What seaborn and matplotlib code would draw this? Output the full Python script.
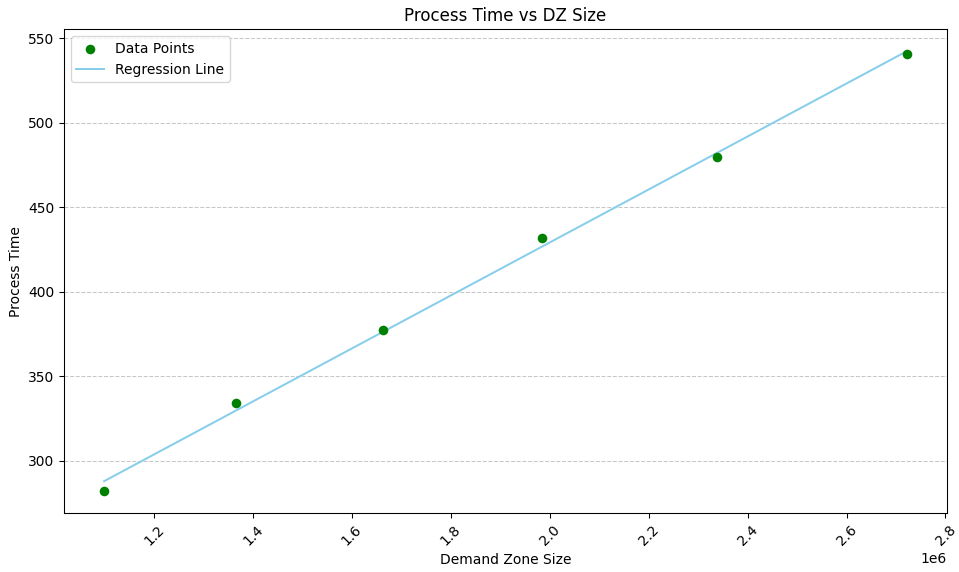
import numpy as np
import pandas as pd
import matplotlib
matplotlib.use("Agg")
import matplotlib.pyplot as plt
import seaborn as sns

# Demand zone sizes and measured process times
dz_size = [1.099e6, 1.365e6, 1.662e6, 1.985e6, 2.339e6, 2.722e6]
process_time = [282.1, 334.1, 377.2, 431.6, 479.7, 540.8]

df = pd.DataFrame({"dz_size": dz_size, "process_time": process_time})

# Least-squares linear fit
slope, intercept = np.polyfit(df["dz_size"], df["process_time"], 1)
df["fitted"] = slope * df["dz_size"] + intercept

# Plain matplotlib look: black text and spines
plt.rcdefaults()
plt.rcParams["font.family"] = ["DejaVu Sans"]
plt.rcParams["font.size"] = 10.4

fig, ax = plt.subplots(figsize=(959 / 96, 572 / 96), dpi=96)
fig.subplots_adjust(left=0.0667, right=0.9875, top=0.949, bottom=0.103)

sns.scatterplot(data=df, x="dz_size", y="process_time", color="green", s=52,
                linewidth=0, label="Data Points", ax=ax, zorder=3)
sns.lineplot(data=df, x="dz_size", y="fitted", color="skyblue", linewidth=1.5,
             label="Regression Line", ax=ax)

ax.set_title("Process Time vs DZ Size", fontsize=12.5)
ax.set_xlabel("Demand Zone Size", fontsize=10.4)
ax.set_ylabel("Process Time", fontsize=10.4)
ax.tick_params(axis="x", rotation=45)
ax.grid(axis="y", linestyle="--", alpha=0.7)
ax.legend(loc="upper left", fontsize=10.4)

fig.savefig("out.png", dpi=96)
